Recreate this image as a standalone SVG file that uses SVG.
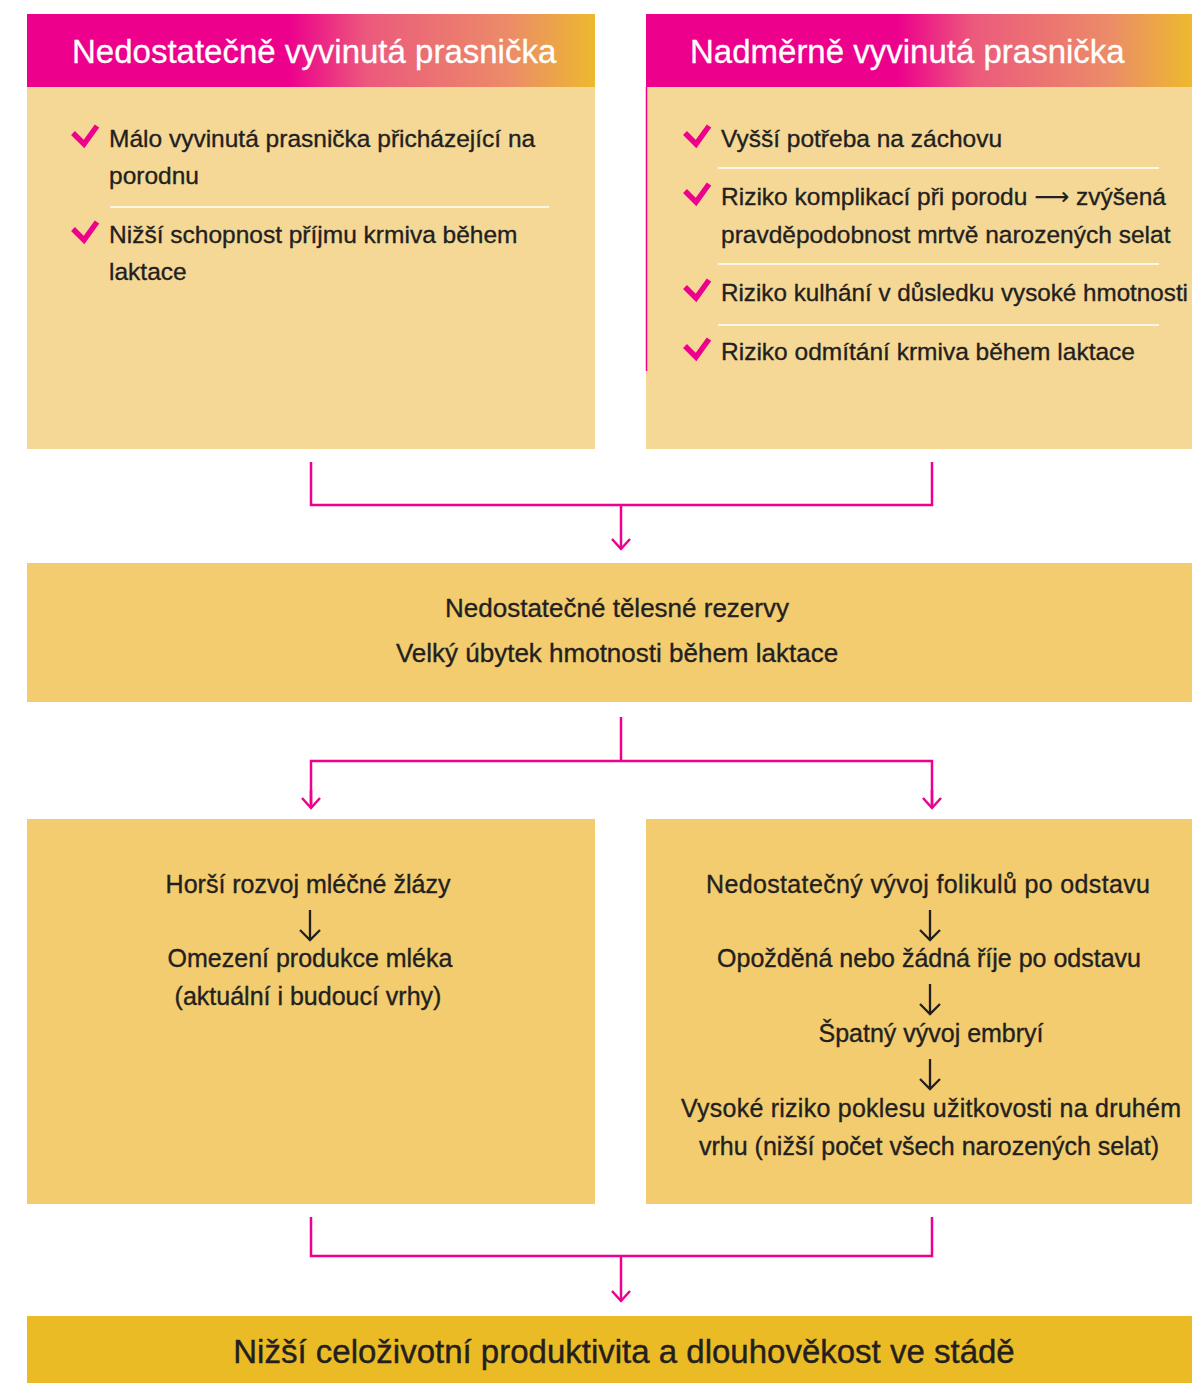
<svg xmlns="http://www.w3.org/2000/svg" width="1192" height="1383" viewBox="0 0 1192 1383">
<style>
.hdr{font-family:"Liberation Sans",Arial,sans-serif;font-size:33px;fill:#fff;stroke:#fff;stroke-width:0.3}
.t{font-family:"Liberation Sans",Arial,sans-serif;font-size:24.5px;fill:#231f20;stroke:#231f20;stroke-width:0.35}
.m{font-size:26px}
.b{font-size:25px}
.c{text-anchor:middle}
.big{font-family:"Liberation Sans",Arial,sans-serif;font-size:33px;fill:#231f20;stroke:#231f20;stroke-width:0.4;text-anchor:middle}
.ar{fill:none;stroke:#231f20;stroke-width:2.3}
.sep{stroke:#fff;stroke-width:1.5}
.chk{fill:none;stroke:#ec008c;stroke-width:5.5;stroke-linejoin:miter;stroke-linecap:butt}
.con{fill:none;stroke:#ec008c;stroke-width:2.5}
.light{fill:#f5d896}
.mid{fill:#f2cc6e}
</style>
<defs>
<linearGradient id="g1" x1="0" y1="0" x2="1" y2="0">
<stop offset="0" stop-color="#ec008c"/>
<stop offset="0.46" stop-color="#ec008c"/>
<stop offset="0.6" stop-color="#ec5a7c"/>
<stop offset="0.85" stop-color="#eb8c68"/>
<stop offset="1" stop-color="#edb92e"/>
</linearGradient>
<marker id="ah" viewBox="0 0 24 24" refX="20" refY="12" markerWidth="24" markerHeight="24" markerUnits="userSpaceOnUse" orient="auto">
<path d="M10,3 L20,12 L10,21" fill="none" stroke="#ec008c" stroke-width="2.5"/>
</marker>
</defs>
<rect width="1192" height="1383" fill="#fff"/>

<g id="node-underdeveloped">
<rect class="light" x="27" y="87" width="568" height="362"/>
<rect x="27" y="14" width="568" height="73" fill="url(#g1)"/>
<text class="hdr" x="72" y="63">Nedostatečně vyvinutá prasnička</text>
<polyline class="chk" points="73,133 84,144 97,126"/>
<text class="t" x="109" y="147">Málo vyvinutá prasnička přicházející na</text>
<text class="t" x="109" y="184">porodnu</text>
<line class="sep" x1="110" y1="207" x2="549" y2="207"/>
<polyline class="chk" points="73,229 84,240 97,222"/>
<text class="t" x="109" y="243">Nižší schopnost příjmu krmiva během</text>
<text class="t" x="109" y="280">laktace</text>
</g>

<g id="node-overdeveloped">
<rect class="light" x="646" y="87" width="546" height="362"/>
<rect x="646" y="14" width="546" height="73" fill="url(#g1)"/>
<line x1="646.5" y1="87" x2="646.5" y2="371" stroke="#ec008c" stroke-width="1.5"/>
<text class="hdr" x="690" y="63">Nadměrně vyvinutá prasnička</text>
<polyline class="chk" points="685,133 696,144 709,126"/>
<text class="t" x="721" y="147">Vyšší potřeba na záchovu</text>
<line class="sep" x1="718" y1="168" x2="1159" y2="168"/>
<polyline class="chk" points="685,191 696,202 709,184"/>
<text class="t" x="721" y="205">Riziko komplikací při porodu <tspan font-family="DejaVu Sans" stroke-width="0">⟶</tspan> zvýšená</text>
<text class="t" x="721" y="243">pravděpodobnost mrtvě narozených selat</text>
<line class="sep" x1="718" y1="264" x2="1159" y2="264"/>
<polyline class="chk" points="685,287 696,298 709,280"/>
<text class="t" x="721" y="301" textLength="467" lengthAdjust="spacingAndGlyphs">Riziko kulhání v důsledku vysoké hmotnosti</text>
<line class="sep" x1="718" y1="325" x2="1159" y2="325"/>
<polyline class="chk" points="685,346 696,357 709,339"/>
<text class="t" x="721" y="360">Riziko odmítání krmiva během laktace</text>
</g>

<g id="node-reserves">
<rect class="mid" x="27" y="563" width="1165" height="139"/>
<text class="t m c" x="617" y="617">Nedostatečné tělesné rezervy</text>
<text class="t m c" x="617" y="662">Velký úbytek hmotnosti během laktace</text>
</g>

<g id="node-milk">
<rect class="mid" x="27" y="819" width="568" height="385"/>
<text class="t b c" x="308" y="893">Horší rozvoj mléčné žlázy</text>
<path class="ar" d="M310,910 V940 M300,930 L310,940 L320,930"/>
<text class="t b c" x="310" y="967">Omezení produkce mléka</text>
<text class="t b c" x="308" y="1005">(aktuální i budoucí vrhy)</text>
</g>

<g id="node-fertility">
<rect class="mid" x="646" y="819" width="546" height="385"/>
<text class="t b c" x="928" y="893" textLength="444">Nedostatečný vývoj folikulů po odstavu</text>
<path class="ar" d="M930,910 V940 M920,930 L930,940 L940,930"/>
<text class="t b c" x="929" y="967">Opožděná nebo žádná říje po odstavu</text>
<path class="ar" d="M930,984 V1014 M920,1004 L930,1014 L940,1004"/>
<text class="t b c" x="931" y="1042">Špatný vývoj embryí</text>
<path class="ar" d="M930,1059 V1089 M920,1079 L930,1089 L940,1079"/>
<text class="t b c" x="931" y="1117" textLength="500">Vysoké riziko poklesu užitkovosti na druhém</text>
<text class="t b c" x="929" y="1155">vrhu (nižší počet všech narozených selat)</text>
</g>

<g id="node-result">
<rect x="27" y="1316" width="1165" height="67" fill="#ebbb25"/>
<text class="big" x="624" y="1363">Nižší celoživotní produktivita a dlouhověkost ve stádě</text>
</g>

<g id="connectors">
<polyline class="con" points="311,462 311,505 932,505 932,462"/>
<line class="con" x1="621" y1="505" x2="621" y2="549" marker-end="url(#ah)"/>
<line class="con" x1="621" y1="717" x2="621" y2="761"/>
<polyline class="con" points="311,808 311,761 932,761 932,808"/>
<line class="con" x1="311" y1="790" x2="311" y2="808" marker-end="url(#ah)"/>
<line class="con" x1="932" y1="790" x2="932" y2="808" marker-end="url(#ah)"/>
<polyline class="con" points="311,1217 311,1256 932,1256 932,1217"/>
<line class="con" x1="621" y1="1256" x2="621" y2="1301" marker-end="url(#ah)"/>
</g>
</svg>
